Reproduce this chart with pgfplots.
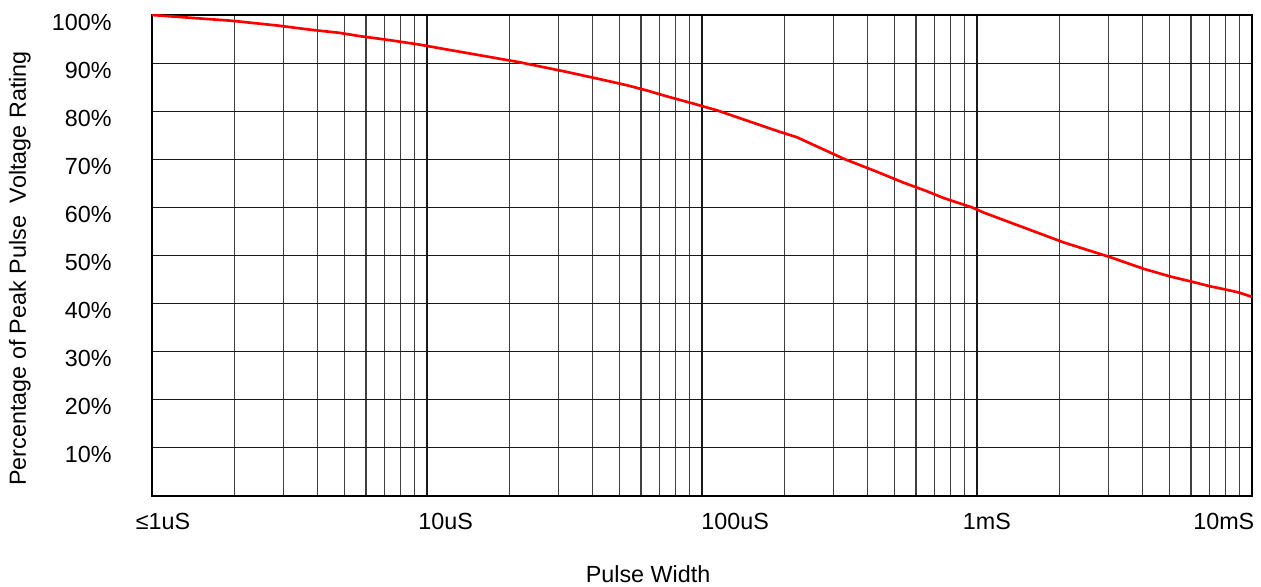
\documentclass[border=0pt]{standalone}
\usepackage{fontspec}
\setmainfont{Liberation Sans}
\usepackage{pgfplots}
\pgfplotsset{compat=1.18}

\pgfplotstableread{
x        y
1e-6     100.0
1.95e-6  98.8
2.87e-6  97.8
3.82e-6  96.9
4.79e-6  96.3
5.70e-6  95.6
6.64e-6  95.1
7.46e-6  94.7
9.27e-6  93.9
1.11e-5  93.1
2.16e-5  90.2
3.20e-5  88.2
4.22e-5  86.7
5.33e-5  85.4
6.31e-5  84.3
7.33e-5  83.2
9.27e-5  81.6
1.13e-4  80.2
1.92e-4  75.7
2.21e-4  74.6
3.28e-4  70.1
4.33e-4  67.4
5.43e-4  65.1
6.48e-4  63.5
7.52e-4  62.0
9.59e-4  60.0
1.06e-3  58.9
2.07e-3  52.7
3.07e-3  49.6
4.05e-3  47.2
5.07e-3  45.6
6.10e-3  44.5
7.03e-3  43.6
7.91e-3  43.0
8.97e-3  42.3
1e-2     41.4
}\derating

\begin{document}
\begin{tikzpicture}
\begin{axis}[
    scale only axis,
    width=660pt, height=288.6pt,
    xmode=log,
    xmin=1e-6, xmax=1e-2,
    ymin=0, ymax=100,
    xtick={1e-6,1e-5,1e-4,1e-3,1e-2},
    xticklabels={},
    extra x ticks={1.096e-6,1.17e-5,1.32e-4,1.087e-3,7.9e-3},
    extra x tick labels={≤1uS,10uS,100uS,1mS,10mS},
    extra x tick style={grid=none},
    ytick={10,20,...,100},
    yticklabels={10\%,20\%,30\%,40\%,50\%,60\%,70\%,80\%,90\%,100\%},
    major tick length=0pt, minor tick length=0pt,
    grid=both,
    major grid style={black!90, line width=0.65pt},
    minor grid style={black!75, line width=0.65pt},
    axis line style={black, line width=0.8pt},
    every tick label/.append style={font=\fontsize{14}{16}\selectfont},
    yticklabel style={anchor=east, inner sep=0pt, xshift=-24pt, yshift=-4.2pt},
    xticklabel style={anchor=north, inner sep=0pt, yshift=-10pt},
    xlabel={Pulse Width},
    ylabel={Percentage of Peak Pulse \ Voltage Rating},
    label style={font=\fontsize{14}{16}\selectfont},
    xlabel style={at={(rel axis cs:0.451,0)}, anchor=north, inner sep=0pt, yshift=-41.5pt},
    ylabel style={at={([xshift=-72.6pt]rel axis cs:0,0.473)}, anchor=south, inner sep=0pt},
]
\addplot[red, line width=1.6pt, line join=round] table[x=x, y=y] {\derating};
\end{axis}
\path (current axis.north east) ++(5.4pt,9pt);
\path (current axis.south west) ++(-91.2pt,-54.5pt);
\end{tikzpicture}
\end{document}
